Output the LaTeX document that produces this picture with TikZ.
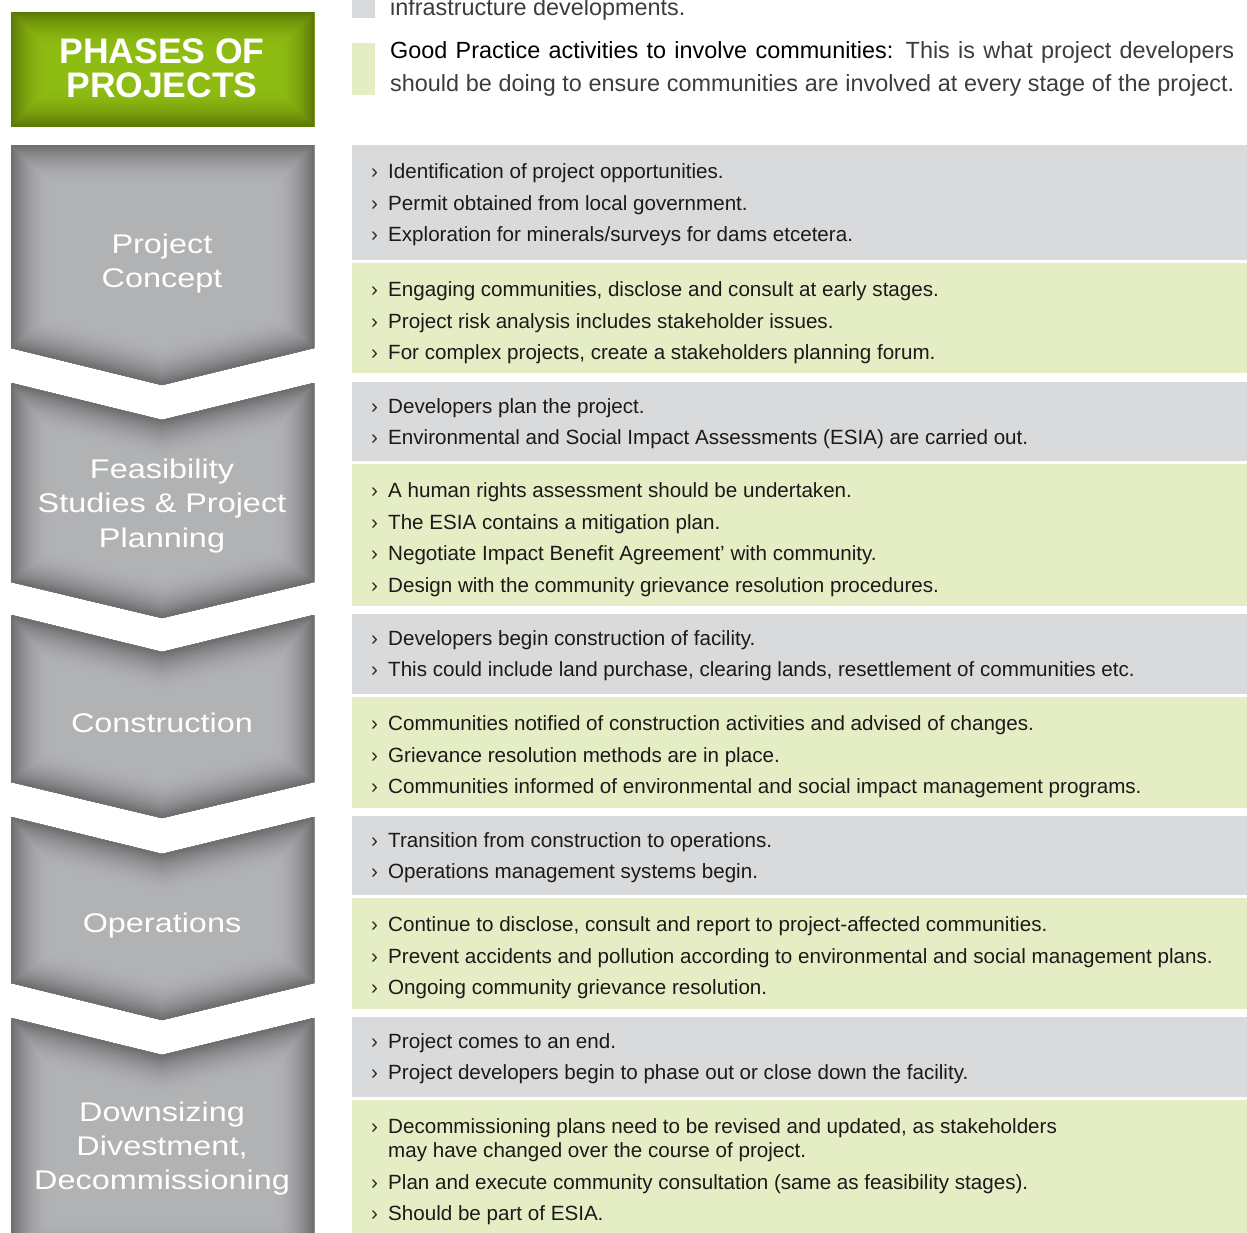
\documentclass[tikz,border=0pt]{standalone}
\usepackage{fontspec}
\setmainfont{Liberation Sans}
\newfontfamily\widefont[FakeStretch=1.2]{Liberation Sans}

\definecolor{panelgray}{HTML}{D9DADC}
\definecolor{panelgreen}{HTML}{E4EDC4}
\definecolor{chevlight}{HTML}{B1B2B4}
\definecolor{chevdark}{HTML}{68686A}
\definecolor{titlelight}{HTML}{8EBC12}
\definecolor{titledark}{HTML}{587404}
\definecolor{bodytext}{HTML}{1A1A1A}
\definecolor{bulletgray}{HTML}{2A2A2A}
\definecolor{legendgray}{HTML}{3C3C3C}

% bullet item
\newcommand{\itm}[1]{\makebox[17pt][l]{\color{bulletgray}›}#1}
% one spread legend line
\newcommand{\legline}[1]{\makebox[844pt][s]{#1}}
% fill a closed path, darkening towards its border
\newcommand{\glowfill}[4]{%
  \begin{scope}
    \clip #1;
    \fill[#2] #1;
    \foreach \i in {0,...,19}
    {
      \pgfmathsetmacro{\bw}{2*#4*(20-\i)/20}
      \pgfmathtruncatemacro{\mx}{100*(1-(\i/20)^2)}
      \draw[line width=\bw pt, line join=miter, #2!\mx!#3] #1;
    }
  \end{scope}}

\begin{document}
\begin{tikzpicture}[x=1pt, y=-1pt, every node/.style={inner sep=0pt},
  chevtext/.style={text=white, align=center, font=\widefont\fontsize{27}{34.5}\selectfont},
  itemtext/.style={anchor=north west, align=left, text=bodytext, font=\fontsize{20.6}{31.5}\selectfont},
  legtext/.style={text=legendgray, font=\fontsize{23.4}{32.5}\selectfont}]
\useasboundingbox (0,0) rectangle (1247,1232);
\clip (0,0) rectangle (1247,1232);

% legend
\fill[panelgray] (352,-10) rectangle (375,18);
\fill[panelgreen] (352,43) rectangle (375,95);
\node[legtext, anchor=base west] (legtop) at (390,15) {infrastructure developments.};
\node[legtext, anchor=north west, align=left] (legend) at (390,36)
  {\strut\legline{\textcolor{black}{Good Practice activities to involve communities:} This is what project developers}\\
   \legline{should be doing to ensure communities are involved at every stage of the project.}};

% title
\glowfill{(11,12) rectangle (314,126)}{titlelight}{titledark}{40}
\node[text=white, align=center, font=\bfseries\fontsize{35.5}{34}\selectfont] (title) at (162,68.5) {PHASES OF\\PROJECTS};

% phases
\foreach \t/\d/\b/\p in {145/145/348/385, 383/420/582/618, 615/652/782/818, 817/854/983/1020, 1018/1055/1260/1260}
{
  \glowfill{(11,\t)--(162,\d)--(314,\t)--(314,\b)--(162,\p)--(11,\b)--cycle}{chevlight}{chevdark}{42}
}
\node[chevtext] (concept) at (162,263.5) {Project\\Concept};
\node[chevtext] (feasibility) at (162,506) {Feasibility\\Studies \& Project\\Planning};
\node[chevtext] (construction) at (162,723) {Construction};
\node[chevtext] (operations) at (162,926) {Operations};
\node[chevtext] (downsizing) at (162,1148.5) {Downsizing\\Divestment,\\Decommissioning};

% panels
\foreach \t/\b/\c in {145/260/panelgray, 263/373/panelgreen, 382/461/panelgray, 464/606/panelgreen,
  614/694/panelgray, 697/808/panelgreen, 816/895/panelgray, 898/1009/panelgreen, 1017/1097/panelgray, 1100/1240/panelgreen}
{
  \fill[\c] (352,\t) rectangle (1247,\b);
}

\node[itemtext] (g1) at (371,156.5) {\strut\itm{Identification of project opportunities.}\\
  \itm{Permit obtained from local government.}\\
  \itm{Exploration for minerals/surveys for dams etcetera.}};
\node[itemtext] (p1) at (371,274.5) {\strut\itm{Engaging communities, disclose and consult at early stages.}\\
  \itm{Project risk analysis includes stakeholder issues.}\\
  \itm{For complex projects, create a stakeholders planning forum.}};
\node[itemtext] (g2) at (371,391) {\strut\itm{Developers plan the project.}\\
  \itm{Environmental and Social Impact Assessments (ESIA) are carried out.}};
\node[itemtext] (p2) at (371,475.5) {\strut\itm{A human rights assessment should be undertaken.}\\
  \itm{The ESIA contains a mitigation plan.}\\
  \itm{Negotiate Impact Benefit Agreement’ with community.}\\
  \itm{Design with the community grievance resolution procedures.}};
\node[itemtext] (g3) at (371,623) {\strut\itm{Developers begin construction of facility.}\\
  \itm{This could include land purchase, clearing lands, resettlement of communities etc.}};
\node[itemtext] (p3) at (371,708.5) {\strut\itm{Communities notified of construction activities and advised of changes.}\\
  \itm{Grievance resolution methods are in place.}\\
  \itm{Communities informed of environmental and social impact management programs.}};
\node[itemtext] (g4) at (371,825) {\strut\itm{Transition from construction to operations.}\\
  \itm{Operations management systems begin.}};
\node[itemtext] (p4) at (371,909.5) {\strut\itm{Continue to disclose, consult and report to project-affected communities.}\\
  \itm{Prevent accidents and pollution according to environmental and social management plans.}\\
  \itm{Ongoing community grievance resolution.}};
\node[itemtext] (g5) at (371,1026) {\strut\itm{Project comes to an end.}\\
  \itm{Project developers begin to phase out or close down the facility.}};
\node[itemtext] (p5) at (371,1111.5) {\strut\itm{Decommissioning plans need to be revised and updated, as stakeholders}\\[-7.5pt]
  \hspace*{17pt}may have changed over the course of project.\\
  \itm{Plan and execute community consultation (same as feasibility stages).}\\
  \itm{Should be part of ESIA.}};

\end{tikzpicture}
\end{document}
